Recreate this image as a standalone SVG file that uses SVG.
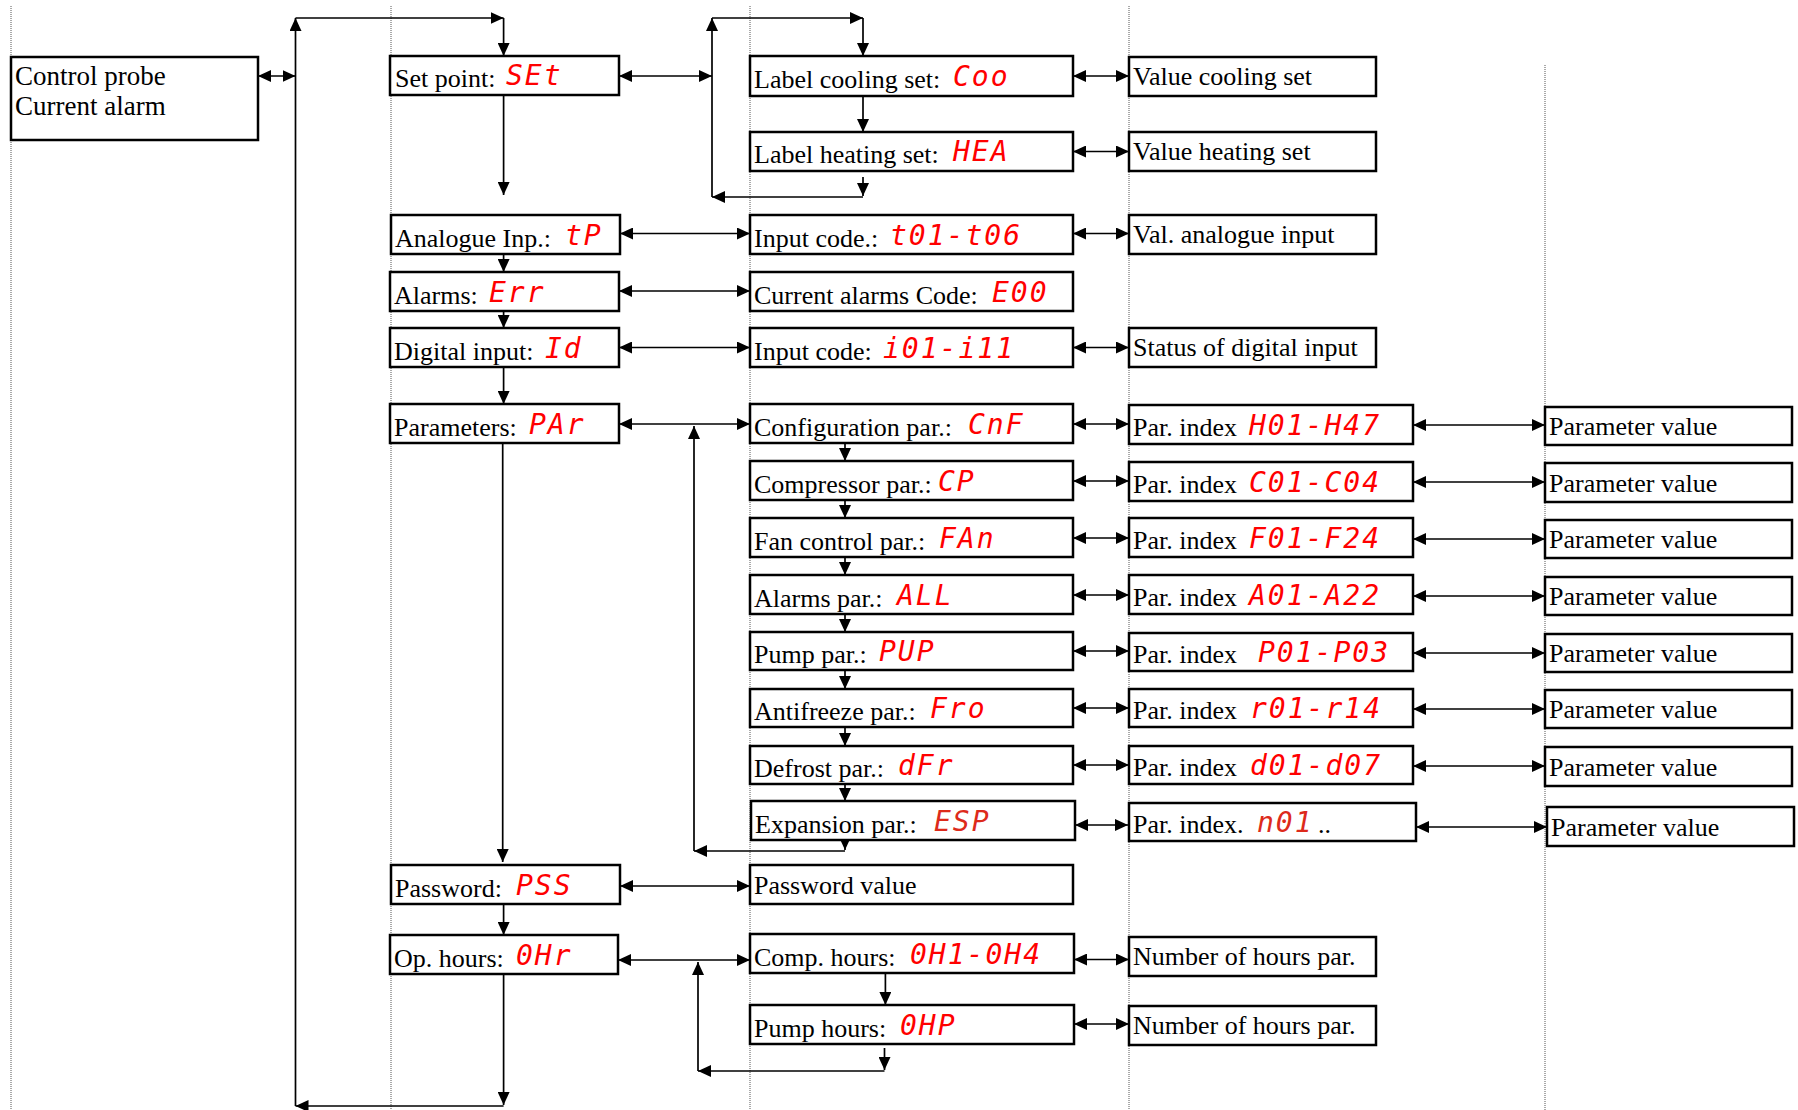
<svg xmlns="http://www.w3.org/2000/svg" width="1798" height="1110" viewBox="0 0 1798 1110">
<defs>
<style>
.box{fill:#fff;stroke:#000;stroke-width:2.5}
.t{font-family:"Liberation Serif","Times New Roman",serif;font-size:26px;fill:#000}
.c{font-family:"DejaVu Sans Mono","Liberation Mono",monospace;font-style:oblique;font-size:28px;fill:#ff0000;letter-spacing:2px}
.c2{fill:#dd2a1b}
.ln{stroke:#000;stroke-width:1.7;fill:none}
.a{marker-end:url(#ah)}
.d{marker-start:url(#ah);marker-end:url(#ah)}
.dot{stroke:#555;stroke-width:1;stroke-dasharray:1 1}
</style>
<marker id="ah" markerUnits="userSpaceOnUse" markerWidth="13" markerHeight="12" refX="13" refY="6" orient="auto-start-reverse">
<path d="M0,0 L13,6 L0,12 z" fill="#000"/>
</marker>
</defs>
<rect width="1798" height="1110" fill="#fff"/>
<g id="guides">
<line class="dot" x1="11" y1="6" x2="11" y2="1110"/>
<line class="dot" x1="391" y1="6" x2="391" y2="1110"/>
<line class="dot" x1="750" y1="6" x2="750" y2="1110"/>
<line class="dot" x1="1129" y1="6" x2="1129" y2="1110"/>
<line class="dot" x1="1545" y1="65" x2="1545" y2="1110"/>
</g>
<g id="connectors">
<line class="ln d" x1="258" y1="76" x2="295.5" y2="76"/>
<line class="ln a" x1="503.6" y1="974" x2="503.6" y2="1105"/>
<line class="ln a" x1="503.6" y1="1106" x2="295.5" y2="1106"/>
<line class="ln a" x1="295.5" y1="1106" x2="295.5" y2="18"/>
<line class="ln a" x1="295.5" y1="18" x2="503.6" y2="18"/>
<line class="ln a" x1="503.6" y1="18" x2="503.6" y2="56"/>
<line class="ln a" x1="503.6" y1="95" x2="503.6" y2="195"/>
<line class="ln a" x1="503.6" y1="254" x2="503.6" y2="272"/>
<line class="ln a" x1="503.6" y1="311" x2="503.6" y2="328"/>
<line class="ln a" x1="503.6" y1="367" x2="503.6" y2="404"/>
<line class="ln a" x1="502.7" y1="443" x2="502.7" y2="862"/>
<line class="ln a" x1="503.6" y1="898" x2="503.6" y2="935"/>
<line class="ln d" x1="619" y1="76" x2="712" y2="76"/>
<line class="ln d" x1="620" y1="233.5" x2="750" y2="233.5"/>
<line class="ln d" x1="619" y1="291" x2="750" y2="291"/>
<line class="ln d" x1="619" y1="347.5" x2="750" y2="347.5"/>
<line class="ln d" x1="619" y1="424" x2="750" y2="424"/>
<line class="ln d" x1="620" y1="886" x2="750" y2="886"/>
<line class="ln d" x1="618" y1="960" x2="750" y2="960"/>
<line class="ln a" x1="712" y1="197" x2="712" y2="18"/>
<line class="ln a" x1="712" y1="18" x2="863" y2="18"/>
<line class="ln a" x1="863" y1="18" x2="863" y2="56"/>
<line class="ln a" x1="863" y1="96" x2="863" y2="132"/>
<line class="ln a" x1="863" y1="177" x2="863" y2="196"/>
<line class="ln a" x1="863" y1="197" x2="712" y2="197"/>
<line class="ln a" x1="845" y1="443" x2="845" y2="461"/>
<line class="ln a" x1="845" y1="500" x2="845" y2="518"/>
<line class="ln a" x1="845" y1="557" x2="845" y2="575"/>
<line class="ln a" x1="845" y1="614" x2="845" y2="632"/>
<line class="ln a" x1="845" y1="670" x2="845" y2="689"/>
<line class="ln a" x1="845" y1="727" x2="845" y2="746"/>
<line class="ln a" x1="845" y1="784" x2="845" y2="801"/>
<line class="ln a" x1="845" y1="840" x2="845" y2="850"/>
<line class="ln a" x1="845" y1="851" x2="694" y2="851"/>
<line class="ln a" x1="694" y1="851" x2="694" y2="426"/>
<line class="ln a" x1="885.4" y1="973" x2="885.4" y2="1005"/>
<line class="ln a" x1="884.5" y1="1048" x2="884.5" y2="1070"/>
<line class="ln a" x1="884.5" y1="1071" x2="698" y2="1071"/>
<line class="ln a" x1="698" y1="1071" x2="698" y2="962"/>
<line class="ln d" x1="1073" y1="76" x2="1129" y2="76"/>
<line class="ln d" x1="1073" y1="151.5" x2="1129" y2="151.5"/>
<line class="ln d" x1="1073" y1="233.5" x2="1129" y2="233.5"/>
<line class="ln d" x1="1073" y1="347.5" x2="1129" y2="347.5"/>
<line class="ln d" x1="1073" y1="424" x2="1129" y2="424"/>
<line class="ln d" x1="1073" y1="481" x2="1129" y2="481"/>
<line class="ln d" x1="1073" y1="538" x2="1129" y2="538"/>
<line class="ln d" x1="1073" y1="595" x2="1129" y2="595"/>
<line class="ln d" x1="1073" y1="651" x2="1129" y2="651"/>
<line class="ln d" x1="1073" y1="708" x2="1129" y2="708"/>
<line class="ln d" x1="1073" y1="765" x2="1129" y2="765"/>
<line class="ln d" x1="1075" y1="825" x2="1128" y2="825"/>
<line class="ln d" x1="1074" y1="959.5" x2="1129" y2="959.5"/>
<line class="ln d" x1="1074" y1="1024" x2="1129" y2="1024"/>
<line class="ln d" x1="1413" y1="425" x2="1545" y2="425"/>
<line class="ln d" x1="1413" y1="482" x2="1545" y2="482"/>
<line class="ln d" x1="1413" y1="539" x2="1545" y2="539"/>
<line class="ln d" x1="1413" y1="596" x2="1545" y2="596"/>
<line class="ln d" x1="1413" y1="653" x2="1545" y2="653"/>
<line class="ln d" x1="1413" y1="709" x2="1545" y2="709"/>
<line class="ln d" x1="1413" y1="766" x2="1545" y2="766"/>
<line class="ln d" x1="1416" y1="827" x2="1547" y2="827"/>
</g>
<g id="n-control-probe"><rect class="box" x="11" y="57" width="247" height="83"/><text class="t" x="15" y="85" style="font-size:27px">Control probe</text><text class="t" x="15" y="115" style="font-size:27px">Current alarm</text></g>
<g id="n-set-point"><rect class="box" x="390" y="56" width="229" height="39"/><text class="t" x="395" y="87">Set point:</text><text class="c" x="506" y="85">SEt</text></g>
<g id="n-analogue"><rect class="box" x="391" y="215" width="229" height="39"/><text class="t" x="395" y="247">Analogue Inp.:</text><text class="c" x="565" y="245">tP</text></g>
<g id="n-alarms"><rect class="box" x="390" y="272" width="229" height="39"/><text class="t" x="394" y="304">Alarms:</text><text class="c" x="489" y="302">Err</text></g>
<g id="n-digital"><rect class="box" x="390" y="328" width="229" height="39"/><text class="t" x="394" y="360">Digital input:</text><text class="c" x="545" y="358">Id</text></g>
<g id="n-parameters"><rect class="box" x="390" y="404" width="229" height="39"/><text class="t" x="394" y="436">Parameters:</text><text class="c" x="529" y="434">PAr</text></g>
<g id="n-password"><rect class="box" x="391" y="865" width="229" height="39"/><text class="t" x="395" y="897">Password:</text><text class="c" x="516" y="895">PSS</text></g>
<g id="n-op-hours"><rect class="box" x="390" y="935" width="228" height="39"/><text class="t" x="394" y="967">Op. hours:</text><text class="c" x="516" y="965">0Hr</text></g>
<g id="n-label-cooling"><rect class="box" x="750" y="56" width="323" height="40"/><text class="t" x="754" y="88">Label cooling set:</text><text class="c" x="953" y="86">Coo</text></g>
<g id="n-label-heating"><rect class="box" x="750" y="132" width="323" height="39"/><text class="t" x="754" y="163">Label heating set:</text><text class="c" x="953" y="161">HEA</text></g>
<g id="n-input-code-a"><rect class="box" x="750" y="215" width="323" height="39"/><text class="t" x="754" y="247">Input code.:</text><text class="c" x="890" y="245">t01-t06</text></g>
<g id="n-current-alarms"><rect class="box" x="750" y="272" width="323" height="39"/><text class="t" x="754" y="304">Current alarms Code:</text><text class="c" x="992" y="302">E00</text></g>
<g id="n-input-code-d"><rect class="box" x="750" y="328" width="323" height="39"/><text class="t" x="754" y="360">Input code:</text><text class="c" x="883" y="358">i01-i11</text></g>
<g id="n-config"><rect class="box" x="750" y="404" width="323" height="39"/><text class="t" x="754" y="436">Configuration par.:</text><text class="c" x="968" y="434">CnF</text></g>
<g id="n-compressor"><rect class="box" x="750" y="461" width="323" height="39"/><text class="t" x="754" y="493">Compressor par.:</text><text class="c" x="938" y="491">CP</text></g>
<g id="n-fan"><rect class="box" x="750" y="518" width="323" height="39"/><text class="t" x="754" y="550">Fan control par.:</text><text class="c" x="939" y="548">FAn</text></g>
<g id="n-alarms-par"><rect class="box" x="750" y="575" width="323" height="39"/><text class="t" x="754" y="607">Alarms par.:</text><text class="c" x="897" y="605">ALL</text></g>
<g id="n-pump-par"><rect class="box" x="750" y="632" width="323" height="38"/><text class="t" x="754" y="663">Pump par.:</text><text class="c" x="879" y="661">PUP</text></g>
<g id="n-antifreeze"><rect class="box" x="750" y="689" width="323" height="38"/><text class="t" x="754" y="720">Antifreeze par.:</text><text class="c" x="930" y="718">Fro</text></g>
<g id="n-defrost"><rect class="box" x="750" y="746" width="323" height="38"/><text class="t" x="754" y="777">Defrost par.:</text><text class="c" x="898" y="775">dFr</text></g>
<g id="n-expansion"><rect class="box" x="751" y="801" width="324" height="39"/><text class="t" x="755" y="833">Expansion par.:</text><text class="c c2" x="934" y="831">ESP</text></g>
<g id="n-password-value"><rect class="box" x="750" y="865" width="323" height="39"/><text class="t" x="754" y="894">Password value</text></g>
<g id="n-comp-hours"><rect class="box" x="750" y="934" width="324" height="39"/><text class="t" x="754" y="966">Comp. hours:</text><text class="c" x="910" y="964">0H1-0H4</text></g>
<g id="n-pump-hours"><rect class="box" x="750" y="1005" width="324" height="39"/><text class="t" x="754" y="1037">Pump hours:</text><text class="c" x="900" y="1035">0HP</text></g>
<g id="n-value-cooling"><rect class="box" x="1129" y="57" width="247" height="39"/><text class="t" x="1133" y="85">Value cooling set</text></g>
<g id="n-value-heating"><rect class="box" x="1129" y="132" width="247" height="39"/><text class="t" x="1133" y="160">Value heating set</text></g>
<g id="n-val-analogue"><rect class="box" x="1129" y="215" width="247" height="39"/><text class="t" x="1133" y="243">Val. analogue input</text></g>
<g id="n-status-digital"><rect class="box" x="1129" y="328" width="247" height="39"/><text class="t" x="1133" y="356">Status of digital input</text></g>
<g id="n-idx-h"><rect class="box" x="1129" y="405" width="284" height="39"/><text class="t" x="1133" y="436">Par. index</text><text class="c" x="1249" y="435">H01-H47</text></g>
<g id="n-idx-c"><rect class="box" x="1129" y="462" width="284" height="39"/><text class="t" x="1133" y="493">Par. index</text><text class="c" x="1249" y="492">C01-C04</text></g>
<g id="n-idx-f"><rect class="box" x="1129" y="518" width="284" height="39"/><text class="t" x="1133" y="549">Par. index</text><text class="c" x="1249" y="548">F01-F24</text></g>
<g id="n-idx-a"><rect class="box" x="1129" y="575" width="284" height="39"/><text class="t" x="1133" y="606">Par. index</text><text class="c" x="1249" y="605">A01-A22</text></g>
<g id="n-idx-p"><rect class="box" x="1129" y="633" width="284" height="38"/><text class="t" x="1133" y="663">Par. index</text><text class="c" x="1258" y="662">P01-P03</text></g>
<g id="n-idx-r"><rect class="box" x="1129" y="689" width="284" height="38"/><text class="t" x="1133" y="719">Par. index</text><text class="c" x="1250" y="718">r01-r14</text></g>
<g id="n-idx-d"><rect class="box" x="1129" y="746" width="284" height="38"/><text class="t" x="1133" y="776">Par. index</text><text class="c" x="1250" y="775">d01-d07</text></g>
<g id="n-idx-n"><rect class="box" x="1129" y="803" width="287" height="38"/><text class="t" x="1133" y="833">Par. index.</text><text class="c c2" x="1257" y="832">n01</text><text class="t" x="1318" y="833">..</text></g>
<g id="n-pv-1"><rect class="box" x="1545" y="407" width="247" height="38"/><text class="t" x="1549" y="435">Parameter value</text></g>
<g id="n-pv-2"><rect class="box" x="1545" y="463" width="247" height="39"/><text class="t" x="1549" y="492">Parameter value</text></g>
<g id="n-pv-3"><rect class="box" x="1545" y="520" width="247" height="38"/><text class="t" x="1549" y="548">Parameter value</text></g>
<g id="n-pv-4"><rect class="box" x="1545" y="577" width="247" height="38"/><text class="t" x="1549" y="605">Parameter value</text></g>
<g id="n-pv-5"><rect class="box" x="1545" y="634" width="247" height="38"/><text class="t" x="1549" y="662">Parameter value</text></g>
<g id="n-pv-6"><rect class="box" x="1545" y="690" width="247" height="38"/><text class="t" x="1549" y="718">Parameter value</text></g>
<g id="n-pv-7"><rect class="box" x="1545" y="747" width="247" height="39"/><text class="t" x="1549" y="776">Parameter value</text></g>
<g id="n-pv-8"><rect class="box" x="1547" y="807" width="247" height="39"/><text class="t" x="1551" y="836">Parameter value</text></g>
<g id="n-hours-1"><rect class="box" x="1129" y="937" width="247" height="39"/><text class="t" x="1133" y="965">Number of hours par.</text></g>
<g id="n-hours-2"><rect class="box" x="1129" y="1006" width="247" height="39"/><text class="t" x="1133" y="1034">Number of hours par.</text></g>
</svg>
